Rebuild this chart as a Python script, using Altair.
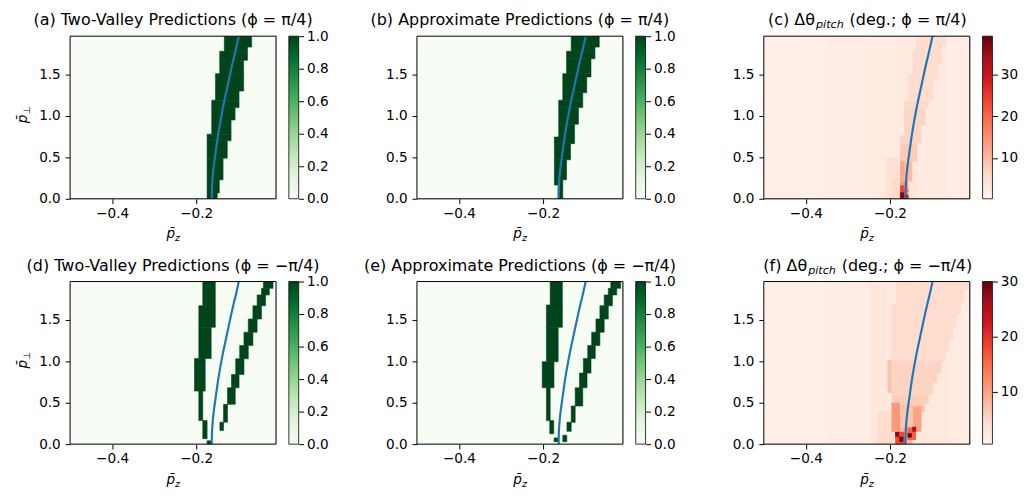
import altair as alt
import pandas as pd

FONT = "DejaVu Sans"
W, H = 209, 165

X_DOMAIN = [-0.5, -0.01]
Y_DOMAIN = [0.0, 1.962]
X_TICKS = [-0.4, -0.2]
Y_TICKS = [0.0, 0.5, 1.0, 1.5]
GREEN_TICKS = [0.0, 0.2, 0.4, 0.6, 0.8, 1.0]
RED_TICKS = [10, 20, 30]
GREENS = ["#f7fcf5", "#e5f5e0", "#c7e9c0", "#a1d99b", "#74c476",
          "#41ab5d", "#238b45", "#006d2c", "#00441b"]
REDS = ["#fff5f0", "#fee0d2", "#fcbba1", "#fc9272", "#fb6a4a",
        "#ef3b2c", "#cb181d", "#a50f15", "#67000d"]
GREEN_RANGE = [0.0, 1.0]
RED_RANGE_C = [0.16, 39.3]
RED_RANGE_F = [0.5, 30.0]

# blue reference curve (same in every panel)
CURVE_X = [-0.163, -0.1625, -0.161, -0.158, -0.1545, -0.1475, -0.137,
           -0.1255, -0.1137, -0.1043, -0.0985]
CURVE_Y = [0.0, 0.12, 0.25, 0.40, 0.53, 0.78, 1.08, 1.355, 1.63, 1.83, 1.962]

# predicted regions (value 1) : (y0, y1, x0, x1)
BAND_A = [
    (0.00, 0.07, -0.174, -0.150), (0.07, 0.23, -0.174, -0.145),
    (0.23, 0.49, -0.174, -0.136), (0.49, 0.70, -0.174, -0.126),
    (0.70, 0.78, -0.174, -0.117), (0.78, 0.95, -0.163, -0.117),
    (0.95, 1.10, -0.163, -0.1075), (1.10, 1.19, -0.163, -0.098),
    (1.19, 1.30, -0.154, -0.098), (1.30, 1.51, -0.154, -0.087),
    (1.51, 1.67, -0.144, -0.087), (1.67, 1.78, -0.144, -0.078),
    (1.78, 1.83, -0.133, -0.078), (1.83, 1.962, -0.133, -0.068),
]
BAND_B = [
    (0.00, 0.165, -0.164, -0.153), (0.165, 0.23, -0.173, -0.153),
    (0.23, 0.47, -0.173, -0.144), (0.47, 0.665, -0.173, -0.1345),
    (0.665, 0.745, -0.173, -0.125), (0.745, 0.90, -0.1627, -0.125),
    (0.90, 1.10, -0.1627, -0.1157), (1.10, 1.19, -0.1627, -0.1055),
    (1.19, 1.28, -0.153, -0.1055), (1.28, 1.47, -0.153, -0.096),
    (1.47, 1.51, -0.153, -0.0859), (1.51, 1.69, -0.144, -0.0859),
    (1.69, 1.78, -0.144, -0.0765), (1.78, 1.83, -0.133, -0.0765),
    (1.83, 1.962, -0.133, -0.0663),
]
BAND_D = [
    (1.67, 1.962, -0.1843, -0.1545), (1.41, 1.67, -0.1937, -0.1545),
    (1.034, 1.41, -0.1937, -0.1643), (0.64, 1.034, -0.204, -0.1785),
    (0.284, 0.64, -0.1937, -0.1843), (0.066, 0.284, -0.1843, -0.174),
    (0.0, 0.04, -0.174, -0.1643),
    (0.165, 0.265, -0.1435, -0.1349), (0.265, 0.48, -0.1349, -0.1255),
    (0.48, 0.68, -0.1255, -0.107), (0.68, 0.84, -0.116, -0.098),
    (0.84, 1.03, -0.106, -0.0863), (1.03, 1.19, -0.0965, -0.076),
    (1.19, 1.35, -0.0863, -0.065), (1.35, 1.51, -0.076, -0.055),
    (1.51, 1.67, -0.065, -0.0447), (1.67, 1.80, -0.055, -0.035),
    (1.80, 1.88, -0.0447, -0.026), (1.88, 1.962, -0.040, -0.0172),
]
BAND_E = [
    (1.68, 1.962, -0.183, -0.154), (1.41, 1.68, -0.192, -0.154),
    (0.995, 1.41, -0.192, -0.164), (0.68, 0.995, -0.202, -0.174),
    (0.284, 0.68, -0.192, -0.183), (0.126, 0.284, -0.184, -0.1745),
    (0.03, 0.075, -0.1737, -0.1643), (0.03, 0.107, -0.153, -0.1435),
    (0.154, 0.264, -0.1431, -0.133), (0.264, 0.46, -0.133, -0.1235),
    (0.46, 0.68, -0.1235, -0.1055), (0.68, 0.857, -0.1133, -0.0953),
    (0.857, 1.034, -0.104, -0.0859), (1.034, 1.19, -0.0937, -0.0757),
    (1.19, 1.35, -0.0843, -0.0647), (1.35, 1.51, -0.0741, -0.0545),
    (1.51, 1.67, -0.0647, -0.0447), (1.67, 1.80, -0.0545, -0.0349),
    (1.80, 1.88, -0.0447, -0.0247), (1.88, 1.962, -0.0388, -0.0153),
]

# pitch-angle error maps: background strips (x0, x1, value) and cells (y0, y1, x0, x1, value)
RED_C_BG = [(-0.5, -0.35, 1.5), (-0.35, -0.25, 2.0), (-0.25, -0.19, 2.6),
            (-0.19, -0.06, 2.8), (-0.06, -0.01, 2.0)]
RED_C_CELLS = [
    (0.0, 0.5, -0.21, -0.1757, 4.5), (0.0, 0.25, -0.195, -0.1757, 6.0),
    (0.0, 0.3, -0.156, -0.135, 4.0),
    (0.0, 0.21, -0.1757, -0.156, 14), (0.21, 0.45, -0.1757, -0.1467, 10),
    (0.45, 0.665, -0.1757, -0.1349, 8), (0.665, 0.76, -0.1757, -0.1255, 6.5),
    (0.76, 0.88, -0.1663, -0.1255, 6.5), (0.88, 1.10, -0.1663, -0.1153, 6.5),
    (1.10, 1.18, -0.1663, -0.1075, 6), (1.18, 1.20, -0.156, -0.1075, 5.5),
    (1.20, 1.45, -0.156, -0.0957, 5.5), (1.45, 1.51, -0.156, -0.0855, 5.5),
    (1.51, 1.63, -0.1467, -0.0855, 5.5), (1.63, 1.79, -0.1467, -0.076, 5.5),
    (1.79, 1.83, -0.1373, -0.076, 5.5), (1.83, 1.962, -0.1373, -0.0667, 5.5),
    (0.21, 0.45, -0.1757, -0.166, 12), (0.0, 0.16, -0.1757, -0.166, 24),
    (0.08, 0.12, -0.166, -0.156, 20), (0.0, 0.08, -0.1757, -0.166, 37),
    (0.0, 0.05, -0.166, -0.156, 30),
]
RED_F_BG = [(-0.5, -0.35, 1.5), (-0.35, -0.25, 2.0), (-0.25, -0.2055, 2.8),
            (-0.2055, -0.06, 2.6), (-0.06, -0.01, 2.2)]
RED_F_CELLS = [
    (0.0, 0.4, -0.23, -0.19, 4.5),
    (0.0, 0.107, -0.182, -0.1467, 8), (0.107, 0.146, -0.1875, -0.1467, 8),
    (0.146, 0.205, -0.1875, -0.1373, 8), (0.205, 0.264, -0.192, -0.1373, 7),
    (0.264, 0.383, -0.192, -0.127, 7), (0.383, 0.48, -0.196, -0.1169, 7),
    (0.48, 0.60, -0.196, -0.1075, 6), (0.60, 0.62, -0.196, -0.098, 5.5),
    (0.62, 0.738, -0.2055, -0.098, 5.5), (0.738, 0.857, -0.2055, -0.0878, 5.5),
    (0.857, 0.995, -0.2055, -0.0776, 5.5), (0.995, 1.015, -0.2055, -0.0682, 5),
    (1.015, 1.114, -0.196, -0.0682, 4.5), (1.114, 1.27, -0.196, -0.0588, 4.5),
    (1.27, 1.41, -0.196, -0.0486, 4.5), (1.41, 1.567, -0.196, -0.0408, 4.5),
    (1.567, 1.686, -0.196, -0.0306, 4.5), (1.686, 1.706, -0.186, -0.0306, 4.5),
    (1.706, 1.864, -0.186, -0.0227, 4.5), (1.864, 1.962, -0.186, -0.0133, 4.5),
    (0.62, 1.015, -0.2055, -0.196, 7),
    (0.15, 0.5, -0.196, -0.176, 11), (0.15, 0.45, -0.145, -0.125, 10),
    (0.0, 0.15, -0.1875, -0.165, 18), (0.05, 0.2, -0.158, -0.138, 16),
    (0.09, 0.146, -0.1875, -0.178, 28), (0.03, 0.09, -0.178, -0.168, 30),
    (0.08, 0.13, -0.158, -0.148, 30), (0.15, 0.21, -0.147, -0.1375, 25),
]

TITLE_A = "(a) Two-Valley Predictions (ϕ = π/4)"
TITLE_B = "(b) Approximate Predictions (ϕ = π/4)"
TITLE_C = ["(c) Δθ", "pitch", "(deg.; ϕ = π/4)"]
TITLE_D = "(d) Two-Valley Predictions (ϕ = −π/4)"
TITLE_E = "(e) Approximate Predictions (ϕ = −π/4)"
TITLE_F = ["(f) Δθ", "pitch", "(deg.; ϕ = −π/4)"]
XLABEL = ["p\u0304", "z"]
YLABEL = ["p\u0304", "⊥"]

ONE = pd.DataFrame({"k": [0]})
TICK_FS = 13.8
TITLE_FS = 16.2
TITLE_Y = -11
CB_OFFSET, CB_WIDTH = 13, 10


def stops(lo, hi):
    return [lo + (hi - lo) * i / 8 for i in range(9)]


def green_layers(band):
    bg = [(Y_DOMAIN[0], Y_DOMAIN[1], X_DOMAIN[0], X_DOMAIN[1], 0.0)]
    on = [(a, b, c, d, 1.0) for (a, b, c, d) in band]
    return [(bg, None), (on, GREENS[-1])]


def red_layers(bg, cells):
    rows = [(Y_DOMAIN[0], Y_DOMAIN[1], a, b, v) for (a, b, v) in bg]
    return [(rows + list(cells), None)]


def txt(s, x, y, size, angle=0, align="center", style="normal", dy=0):
    return alt.Chart(ONE).mark_text(
        text=s, align=align, baseline="alphabetic", fontSize=size, font=FONT,
        fontStyle=style, angle=angle, dy=dy, color="black",
    ).encode(x=alt.value(x), y=alt.value(y))


def panel(cell_layers, cmap, crange, ticks, fmt, title, ylab):
    cscale = alt.Scale(domain=stops(*crange), range=cmap, interpolate="rgb")
    xs = alt.Scale(domain=X_DOMAIN, nice=False, zero=False)
    ys = alt.Scale(domain=Y_DOMAIN, nice=False, zero=False)
    common = dict(title=None, grid=False, domain=False, tickSize=5, tickWidth=1,
                  tickColor="black", labelFont=FONT, labelFontSize=TICK_FS,
                  labelColor="black", labelFlush=False)
    xaxis = alt.Axis(values=X_TICKS, labelPadding=3, format=".1f", **common)
    yaxis = alt.Axis(values=Y_TICKS, labelPadding=5, format=".1f", **common)
    layers = []
    for cells, edge in cell_layers:
        df = pd.DataFrame(cells, columns=["y0", "y1", "x0", "x1", "v"])
        mk = dict(clip=True)
        if edge:
            mk.update(stroke=edge, strokeWidth=0.6)
        layers.append(alt.Chart(df).mark_rect(**mk).encode(
            x=alt.X("x0:Q", scale=xs, axis=xaxis), x2="x1:Q",
            y=alt.Y("y0:Q", scale=ys, axis=yaxis), y2="y1:Q",
            color=alt.Color("v:Q", scale=cscale, legend=None),
        ))
    curve = pd.DataFrame({"x": CURVE_X, "y": CURVE_Y})
    layers.append(alt.Chart(curve).mark_line(
        color="#1f77b4", strokeWidth=2.2, interpolate="monotone", clip=True
    ).encode(x="x:Q", y="y:Q", order="y:Q"))
    layers.append(alt.Chart(ONE).mark_rect(filled=False, color="black", strokeWidth=1).encode(
        x=alt.value(0), x2=alt.value(W), y=alt.value(0), y2=alt.value(H)
    ))
    # colour bar: gradient of the colormap, outlined
    grad = alt.LinearGradient(
        gradient="linear", x1=0, x2=0, y1=1, y2=0,
        stops=[alt.GradientStop(offset=i / 8, color=c) for i, c in enumerate(cmap)],
    )
    layers.append(alt.Chart(ONE).mark_rect(fill=grad, stroke="black", strokeWidth=0.8).encode(
        x=alt.value(W + CB_OFFSET), x2=alt.value(W + CB_OFFSET + CB_WIDTH),
        y=alt.value(0), y2=alt.value(H)
    ))
    if isinstance(title, str):
        layers.append(txt(title, W / 2, TITLE_Y, TITLE_FS))
    else:
        t1, t2, t3, xa, xb = title
        layers.append(txt(t1, xa, TITLE_Y, TITLE_FS, align="right"))
        layers.append(txt(t2, xa + 1, TITLE_Y, TITLE_FS * 0.7, align="left",
                          style="italic", dy=3))
        layers.append(txt(t3, xb, TITLE_Y, TITLE_FS, align="left"))
    layers.append(txt(XLABEL[0], W / 2 + 2, H + 40, TICK_FS, align="right",
                      style="italic"))
    layers.append(txt(XLABEL[1], W / 2 + 2, H + 40, TICK_FS * 0.7,
                      align="left", style="italic", dy=3))
    if ylab:
        layers.append(txt(YLABEL[0], -44, H / 2 - 3, TICK_FS, angle=270,
                          align="right", style="italic"))
        layers.append(txt(YLABEL[1], -44, H / 2 - 3, TICK_FS * 0.7, angle=270,
                          align="left", dy=3))
    inner = alt.layer(*layers)
    cb_axis = alt.Axis(orient="right", offset=CB_OFFSET + CB_WIDTH, values=ticks,
                       format=fmt, labelPadding=3, **common)
    cbar = alt.Chart(pd.DataFrame({"t": ticks})).mark_point(opacity=0).encode(
        y=alt.Y("t:Q", scale=alt.Scale(domain=crange, nice=False, zero=False),
                axis=cb_axis)
    )
    return alt.layer(inner, cbar).resolve_scale(y="independent").properties(
        width=W, height=H)


pa = panel(green_layers(BAND_A), GREENS, GREEN_RANGE, GREEN_TICKS, ".1f", TITLE_A, True)
pb = panel(green_layers(BAND_B), GREENS, GREEN_RANGE, GREEN_TICKS, ".1f", TITLE_B, False)
pc = panel(red_layers(RED_C_BG, RED_C_CELLS), REDS, RED_RANGE_C, RED_TICKS, "d",
           TITLE_C + [52, 87], False)
pd_ = panel(green_layers(BAND_D), GREENS, GREEN_RANGE, GREEN_TICKS, ".1f", TITLE_D, True)
pe = panel(green_layers(BAND_E), GREENS, GREEN_RANGE, GREEN_TICKS, ".1f", TITLE_E, False)
pf = panel(red_layers(RED_F_BG, RED_F_CELLS), REDS, RED_RANGE_F, RED_TICKS, "d",
           TITLE_F + [44, 79], False)

chart = alt.concat(
    pa, pb, pc, pd_, pe, pf, columns=3,
    spacing={"row": 84, "column": 143}, bounds="flush",
).resolve_scale(
    color="independent", x="independent", y="independent"
).properties(
    padding={"left": 7, "top": 0, "right": 2, "bottom": 0}
).configure_view(stroke=None).configure(font=FONT)

chart.save("out.html", embed_options={"renderer": "svg", "actions": False})
